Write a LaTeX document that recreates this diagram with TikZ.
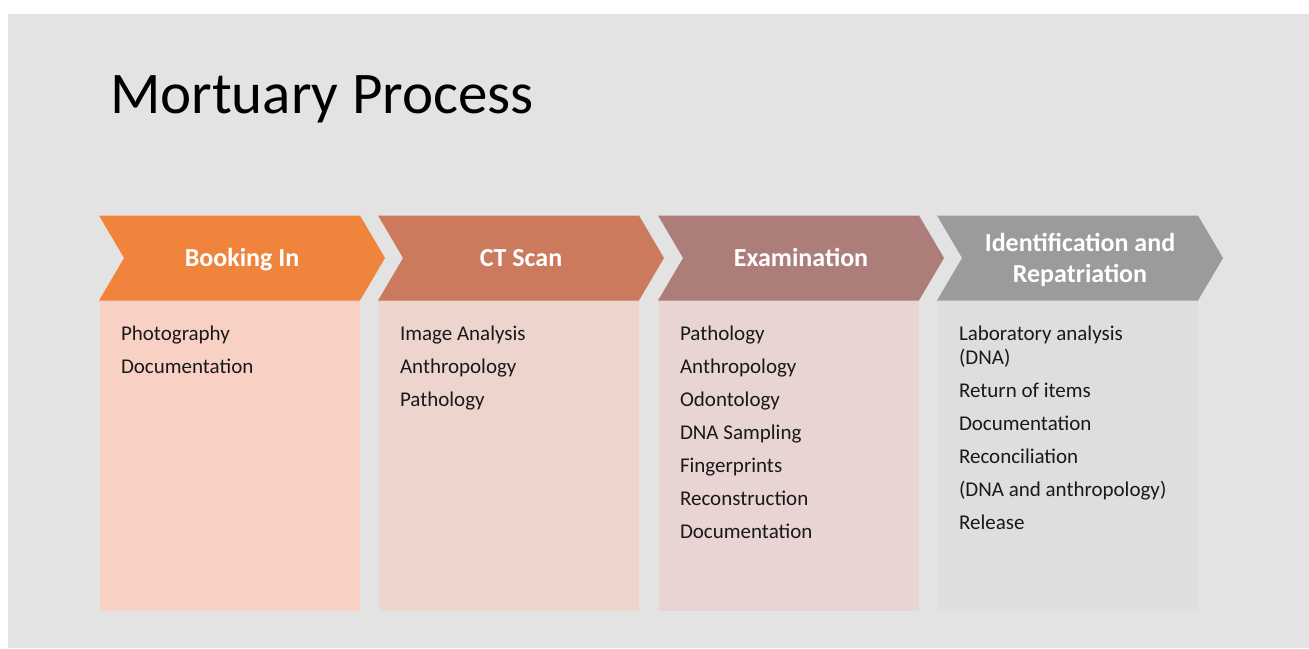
\documentclass[tikz,border=0pt]{standalone}
\usepackage{fontspec}
\setmainfont{Carlito}
\usepackage{tikz}
\usetikzlibrary{positioning, shapes.symbols}

\definecolor{slidebg}{HTML}{E3E3E3}
\definecolor{orangeA}{HTML}{F0843C}
\definecolor{orangeB}{HTML}{CC7A5E}
\definecolor{roseC}{HTML}{AD7E79}
\definecolor{greyD}{HTML}{999B9C}
\definecolor{paleA}{HTML}{F8D0C4}
\definecolor{paleB}{HTML}{EDD5CD}
\definecolor{paleC}{HTML}{E8D4D2}
\definecolor{paleD}{HTML}{E0DEDD}

\begin{document}
\begin{tikzpicture}[x=1pt, y=-1pt,
    every node/.append style={inner sep=0pt, outer sep=0pt},
    step head/.style={signal, signal to=east, signal from=west, signal pointer angle=119,
        minimum width=286pt, minimum height=85pt, text=white, align=center,
        font=\bfseries\fontsize{26}{31}\selectfont},
    one line/.style={text height=17pt, text depth=0pt},
    step body/.style={anchor=north west, minimum width=260pt, minimum height=311pt},
    step list/.style={anchor=north west, align=left, text=black!90,
        font=\fontsize{21}{33}\selectfont}]
	% slide background
	\useasboundingbox (0,0) rectangle (1309,648);
	\fill[white] (0,0) rectangle (1309,648);
	\fill[slidebg] (8,14) rectangle (1309,648);

	\node[anchor=base west, font=\fontsize{59}{64}\selectfont] (title) at (110,113) {Mortuary Process};

	% columns below the arrows
	\node[step body, fill=paleA] (bodyA) at (100,300) {};
	\node[step body, fill=paleB] (bodyB) at (379,300) {};
	\node[step body, fill=paleC] (bodyC) at (659,300) {};
	\node[step body, fill=paleD] (bodyD) at (938,300) {};

	% process arrows
	\node[step head, one line, fill=orangeA] (booking) at (242,258) {Booking In};
	\node[step head, one line, fill=orangeB] (ctscan) at (521,258) {CT Scan};
	\node[step head, one line, fill=roseC] (exam) at (801,258) {Examination};
	\node[step head, fill=greyD] (ident) at (1080,258) {};
	\node[text=white, align=center, font=\bfseries\fontsize{26}{31}\selectfont] (identtext) at (1080,260) {Identification and\\Repatriation};

	% what happens at each step
	\node[step list] (listA) at (121,326) {Photography\\Documentation};
	\node[step list] (listB) at (400,326) {Image Analysis\\Anthropology\\Pathology};
	\node[step list] (listC) at (680,326) {Pathology\\Anthropology\\Odontology\\DNA Sampling\\Fingerprints\\Reconstruction\\Documentation};
	\node[step list] (listD) at (959,326) {Laboratory analysis\\[-9pt](DNA)\\Return of items\\Documentation\\Reconciliation\\(DNA and anthropology)\\Release};
\end{tikzpicture}
\end{document}
